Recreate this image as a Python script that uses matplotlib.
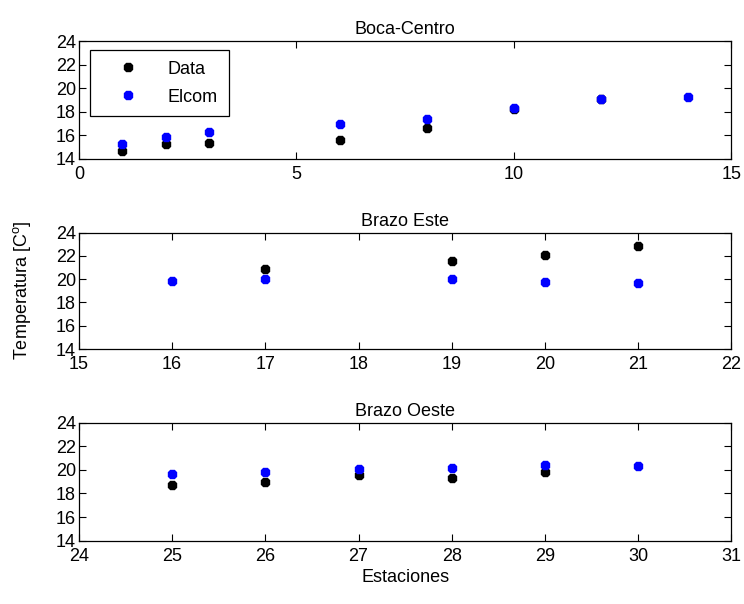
import numpy as np
import matplotlib
matplotlib.use("Agg")
import matplotlib.pyplot as plt

plt.rcParams['font.family'] = ['Liberation Sans', 'DejaVu Sans']
plt.rcParams['mathtext.default'] = 'regular'
plt.rcParams['font.size'] = 13

# Boca-Centro
bc_data_x = [1, 2, 3, 6, 8, 10, 12]
bc_data_y = [14.65, 15.25, 15.33, 15.6, 16.6, 18.2, 19.05]
bc_elcom_x = [1, 2, 3, 6, 8, 10, 12, 14]
bc_elcom_y = [15.25, 15.85, 16.27, 17.0, 17.4, 18.3, 19.05, 19.24]

# Brazo Este
be_data_x = [17, 19, 20, 21]
be_data_y = [20.9, 21.6, 22.1, 22.85]
be_elcom_x = [16, 17, 19, 20, 21]
be_elcom_y = [19.87, 20.0, 20.0, 19.76, 19.65]

# Brazo Oeste
bo_data_x = [25, 26, 27, 28, 29]
bo_data_y = [18.7, 19.0, 19.6, 19.34, 19.82]
bo_elcom_x = [25, 26, 27, 28, 29, 30]
bo_elcom_y = [19.68, 19.8, 20.08, 20.19, 20.45, 20.3]

titles = ["Boca-Centro", "Brazo Este", "Brazo Oeste"]
xlims = [(0, 15), (15, 22), (24, 31)]
xticks = [[0, 5, 10, 15], list(range(15, 23)), list(range(24, 32))]
yticks = [14, 16, 18, 20, 22, 24]

panels = [
    (bc_data_x, bc_data_y, bc_elcom_x, bc_elcom_y),
    (be_data_x, be_data_y, be_elcom_x, be_elcom_y),
    (bo_data_x, bo_data_y, bo_elcom_x, bo_elcom_y),
]

fig = plt.figure(figsize=(7.44, 6.04), dpi=100)
left, width = 0.106, 0.877
boxes = [(0.737, 0.195), (0.422, 0.193), (0.105, 0.195)]

for i, (dx, dy, ex, ey) in enumerate(panels):
    ax = fig.add_axes([left, boxes[i][0], width, boxes[i][1]])
    ax.plot(dx, dy, ls='none', marker='8', ms=6.5, color='black', label='Data')
    ax.plot(ex, ey, ls='none', marker='8', ms=6.5, color='blue', label='Elcom')
    ax.set_xlim(*xlims[i])
    ax.set_ylim(14, 24)
    ax.set_xticks(xticks[i])
    ax.set_yticks(yticks)
    ax.tick_params(direction='in', top=True, right=True, length=5, pad=2)
    ax.tick_params(axis='x', pad=5)
    for s in ax.spines.values():
        s.set_linewidth(0.9)
    ax.set_title(titles[i], fontsize=13, pad=5)
    if i == 0:
        leg = ax.legend(loc='upper left', bbox_to_anchor=(0.017, 0.925),
                        fancybox=False, edgecolor='black', framealpha=1,
                        borderaxespad=0, handletextpad=0.7, borderpad=0.6,
                        labelspacing=0.6, handlelength=3.0, fontsize=13)
        leg.get_frame().set_linewidth(0.9)
    if i == 2:
        ax.set_xlabel("Estaciones", fontsize=13, labelpad=3)

fig.text(0.03, 0.52, "Temperatura [C$^{o}$]", rotation=90, ha='center', va='center', fontsize=13)

fig.savefig("out.png", dpi=100)
